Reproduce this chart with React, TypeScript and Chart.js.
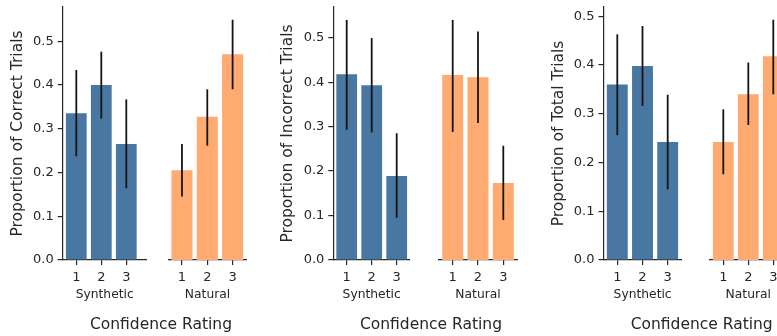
import React, { useEffect, useRef } from "react";
import { Chart, registerables } from "chart.js";

Chart.register(...registerables);

// ---------- data ----------
const ratingLabels = ["1", "2", "3"];
const groupLabels = ["Synthetic", "Natural"];
const yTitles = [
  "Proportion of Correct Trials",
  "Proportion of Incorrect Trials",
  "Proportion of Total Trials",
];
const xAxisTitle = "Confidence Rating";

const correctSynthetic = [0.335, 0.4, 0.265];
const correctSyntheticLow = [0.237, 0.323, 0.164];
const correctSyntheticHigh = [0.434, 0.476, 0.367];
const correctNatural = [0.205, 0.327, 0.47];
const correctNaturalLow = [0.145, 0.261, 0.39];
const correctNaturalHigh = [0.265, 0.39, 0.549];

const incorrectSynthetic = [0.418, 0.393, 0.189];
const incorrectSyntheticLow = [0.293, 0.287, 0.095];
const incorrectSyntheticHigh = [0.54, 0.499, 0.285];
const incorrectNatural = [0.416, 0.411, 0.173];
const incorrectNaturalLow = [0.288, 0.308, 0.09];
const incorrectNaturalHigh = [0.54, 0.514, 0.257];

const totalSynthetic = [0.36, 0.398, 0.242];
const totalSyntheticLow = [0.256, 0.316, 0.145];
const totalSyntheticHigh = [0.463, 0.48, 0.339];
const totalNatural = [0.242, 0.34, 0.418];
const totalNaturalLow = [0.176, 0.277, 0.34];
const totalNaturalHigh = [0.309, 0.405, 0.493];

const yMaxes = [0.578, 0.569, 0.519];
const yTickStep = 0.1;

// ---------- styling / layout ----------
const FONT = "'DejaVu Sans', sans-serif";
const TEXT = "#262626";
const SPINE = "#262626";
const groupColors = ["rgb(72,120,161)", "rgb(255,170,112)"];
const ERR_COLOR = "#141414";

const values = [
  [correctSynthetic, correctNatural],
  [incorrectSynthetic, incorrectNatural],
  [totalSynthetic, totalNatural],
];
const lows = [
  [correctSyntheticLow, correctNaturalLow],
  [incorrectSyntheticLow, incorrectNaturalLow],
  [totalSyntheticLow, totalNaturalLow],
];
const highs = [
  [correctSyntheticHigh, correctNaturalHigh],
  [incorrectSyntheticHigh, incorrectNaturalHigh],
  [totalSyntheticHigh, totalNaturalHigh],
];

const AXIS_TOP = 7;
const AXIS_BOTTOM = 260;
const H = 336;

type Part = {
  panel: number;
  group: number;
  canvasLeft: number;
  axisLeft: number;
  axisRight: number;
  xMin: number;
  xMax: number;
  titleX?: number;
};

const parts: Part[] = [
  { panel: 0, group: 0, canvasLeft: 0, axisLeft: 62.7, axisRight: 146.7, xMin: -0.544, xMax: 2.816, titleX: 17.5 },
  { panel: 0, group: 1, canvasLeft: 160, axisLeft: 168.3, axisRight: 246.7, xMin: -0.54, xMax: 2.557 },
  { panel: 1, group: 0, canvasLeft: 262, axisLeft: 333.3, axisRight: 410, xMin: -0.536, xMax: 2.532, titleX: 288 },
  { panel: 1, group: 1, canvasLeft: 430, axisLeft: 438.3, axisRight: 517.7, xMin: -0.569, xMax: 2.569 },
  { panel: 2, group: 0, canvasLeft: 532, axisLeft: 603.5, axisRight: 681.7, xMin: -0.548, xMax: 2.556, titleX: 558.8 },
  { panel: 2, group: 1, canvasLeft: 700, axisLeft: 709.3, axisRight: 787.3, xMin: -0.56, xMax: 2.56 },
];

const bottomTitleCenters = [161, 431, 701.7];

const TITLE_SIZE = 15.5;
const TICK_SIZE = 13;
const GROUP_SIZE = 12.3;

const errorBarPlugin = {
  id: "errorBarsInline",
  afterDatasetsDraw(chart: any) {
    const opts = chart.options.plugins.errBars;
    if (!opts) return;
    const meta = chart.getDatasetMeta(0);
    const ys = chart.scales.y;
    const ctx = chart.ctx;
    ctx.save();
    ctx.strokeStyle = ERR_COLOR;
    ctx.lineWidth = 1.8;
    meta.data.forEach((bar: any, i: number) => {
      ctx.beginPath();
      ctx.moveTo(bar.x, ys.getPixelForValue(opts.low[i]));
      ctx.lineTo(bar.x, ys.getPixelForValue(opts.high[i]));
      ctx.stroke();
    });
    ctx.restore();
  },
};

function PartChart({ part }: { part: Part }) {
  const ref = useRef<HTMLCanvasElement | null>(null);
  const isSyn = part.group === 0;
  const canvasRight = Math.ceil(part.axisRight);
  const width = canvasRight - part.canvasLeft;

  useEffect(() => {
    if (!ref.current) return;
    const yWidth = part.axisLeft - part.canvasLeft;
    const zeroPad = (s: any) => {
      s.paddingTop = 0;
      s.paddingBottom = 0;
      s.paddingLeft = 0;
      s.paddingRight = 0;
    };
    const vals = values[part.panel][part.group];
    const chart = new Chart(ref.current, {
      type: "bar",
      data: {
        datasets: [
          {
            data: vals.map((v, i) => ({ x: i, y: v })),
            backgroundColor: groupColors[part.group],
            borderWidth: 0,
            barPercentage: 0.83,
            categoryPercentage: 1,
          },
        ],
      },
      plugins: [errorBarPlugin],
      options: {
        responsive: false,
        animation: false,
        events: [],
        layout: {
          padding: {
            top: AXIS_TOP,
            left: 0,
            right: canvasRight - part.axisRight,
            bottom: 0,
          },
        },
        plugins: {
          legend: { display: false },
          tooltip: { enabled: false },
          // @ts-ignore
          errBars: { low: lows[part.panel][part.group], high: highs[part.panel][part.group] },
        },
        scales: {
          x: {
            type: "linear",
            min: part.xMin,
            max: part.xMax,
            offset: false,
            afterBuildTicks: (s: any) => {
              s.ticks = ratingLabels.map((_, i) => ({ value: i }));
            },
            afterFit: (s: any) => {
              s.height = H - AXIS_BOTTOM;
              zeroPad(s);
            },
            grid: {
              display: true,
              offset: false,
              drawOnChartArea: false,
              drawTicks: true,
              tickLength: 5,
              tickColor: SPINE,
              lineWidth: 1.2,
            },
            border: { display: true, color: SPINE, width: 1.2 },
            ticks: {
              autoSkip: false,
              maxRotation: 0,
              padding: 5,
              color: TEXT,
              font: { family: FONT, size: TICK_SIZE },
              callback: (v: any) => ratingLabels[Math.round(Number(v))],
            },
            title: {
              display: true,
              text: groupLabels[part.group],
              color: TEXT,
              font: { family: FONT, size: GROUP_SIZE },
              padding: { top: 0, bottom: 41 - GROUP_SIZE * 0.6 },
            },
          },
          y: {
            display: isSyn,
            min: 0,
            max: yMaxes[part.panel],
            afterFit: (s: any) => {
              s.width = yWidth;
              zeroPad(s);
            },
            grid: {
              display: true,
              drawOnChartArea: false,
              drawTicks: true,
              tickLength: 5,
              tickColor: SPINE,
              lineWidth: 1.2,
            },
            border: { display: true, color: SPINE, width: 1.2 },
            ticks: {
              stepSize: yTickStep,
              includeBounds: false,
              padding: 4,
              color: TEXT,
              font: { family: FONT, size: TICK_SIZE },
              callback: (v: any) => Number(v).toFixed(1),
            },
            title: {
              display: isSyn,
              text: yTitles[part.panel],
              color: TEXT,
              font: { family: FONT, size: TITLE_SIZE },
              padding: { top: (part.titleX ?? 0) - part.canvasLeft - TITLE_SIZE * 0.6, bottom: 0 },
            },
          },
        },
      } as any,
    });
    return () => chart.destroy();
  }, []);

  return (
    <canvas
      ref={ref}
      width={width}
      height={H}
      style={{ position: "absolute", left: part.canvasLeft, top: 0, width, height: H }}
    />
  );
}

export default function App() {
  return (
    <div
      style={{
        position: "absolute",
        left: 0,
        top: 0,
        width: 777,
        height: 336,
        overflow: "hidden",
        background: "#ffffff",
      }}
    >
      {parts.map((p, i) => (
        <PartChart key={i} part={p} />
      ))}
      {bottomTitleCenters.map((cx, i) => (
        <div
          key={"t" + i}
          style={{
            position: "absolute",
            left: cx - 100,
            width: 200,
            top: 315,
            lineHeight: "18px",
            textAlign: "center",
            fontFamily: FONT,
            fontSize: TITLE_SIZE,
            color: TEXT,
            whiteSpace: "nowrap",
          }}
        >
          {xAxisTitle}
        </div>
      ))}
    </div>
  );
}
